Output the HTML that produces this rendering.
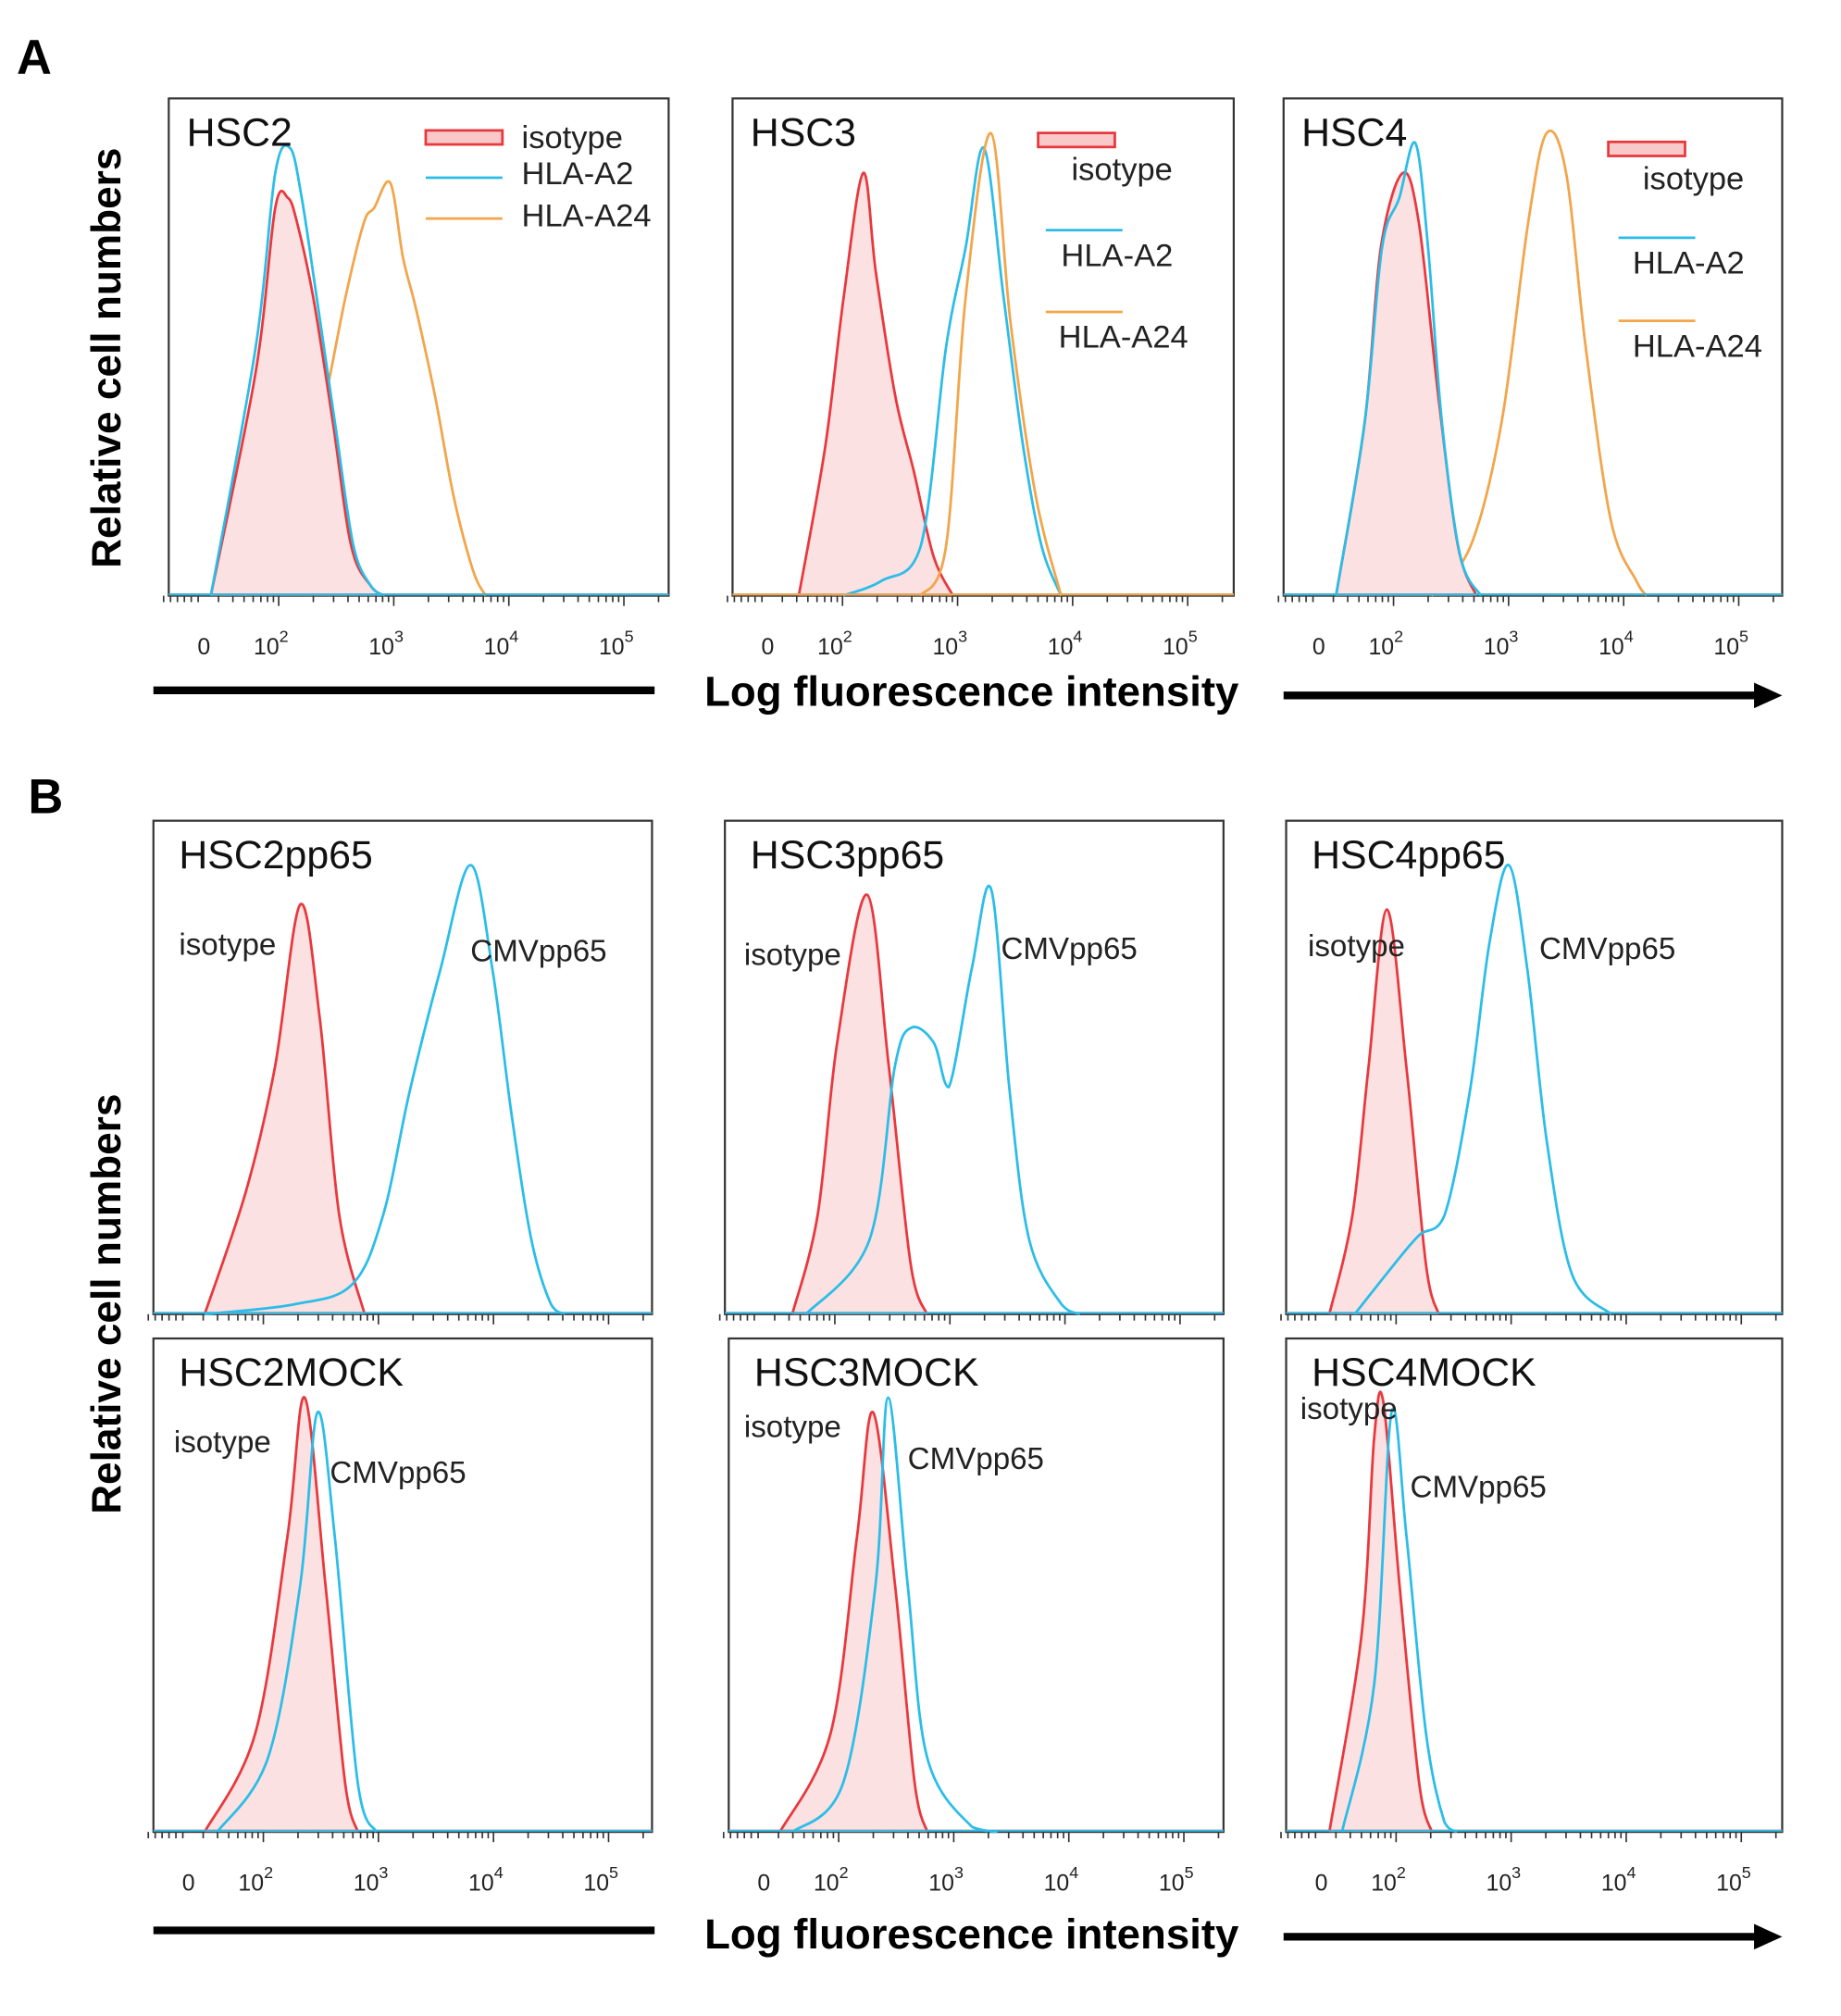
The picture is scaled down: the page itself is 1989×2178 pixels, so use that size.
<!DOCTYPE html>
<html><head><meta charset="utf-8"><style>
html,body{margin:0;padding:0;background:#fff}
svg{display:block}
text{font-family:"Liberation Sans",sans-serif}
</style></head><body>
<svg id="fig" width="1989" height="2178" viewBox="0 0 1440 1577" preserveAspectRatio="none" xmlns="http://www.w3.org/2000/svg">
<defs><marker id="ah" markerWidth="24" markerHeight="24" refX="4" refY="12" orient="auto" markerUnits="userSpaceOnUse"><path d="M0,2 L22,12 L0,22 z" fill="#000"/></marker></defs>
<text x="13" y="58" font-size="38" font-weight="bold">A</text>
<text x="22" y="636" font-size="38" font-weight="bold">B</text>
<text transform="translate(94,280) rotate(-90)" text-anchor="middle" font-size="32" font-weight="bold">Relative cell numbers</text>
<text transform="translate(94,1020) rotate(-90)" text-anchor="middle" font-size="32" font-weight="bold">Relative cell numbers</text>
<g>
<line x1="120" y1="540" x2="512" y2="540" stroke="#000" stroke-width="6"/>
<text x="760" y="552" text-anchor="middle" font-size="33" font-weight="bold">Log fluorescence intensity</text>
<line x1="1004" y1="544" x2="1376" y2="544" stroke="#000" stroke-width="6" marker-end="url(#ah)"/>
</g>
<g>
<line x1="120" y1="1510" x2="512" y2="1510" stroke="#000" stroke-width="6"/>
<text x="760" y="1524" text-anchor="middle" font-size="33" font-weight="bold">Log fluorescence intensity</text>
<line x1="1004" y1="1515" x2="1376" y2="1515" stroke="#000" stroke-width="6" marker-end="url(#ah)"/>
</g>
<g id="panels"></g>
</svg>
<script>
const tickLabels = ["0","2","3","4","5"];
const tickU = [1.35, 2, 3, 4, 5];
const a2Iso = [[1.41,0],[1.8,0.45],[1.97,0.78],[2.08,0.8],[2.16,0.75],[2.3,0.6],[2.47,0.35],[2.63,0.1],[2.8,0.02],[2.92,0]];
const a2A2 = [[1.41,0],[1.8,0.5],[1.97,0.85],[2.1,0.9],[2.2,0.8],[2.33,0.6],[2.5,0.33],[2.65,0.1],[2.8,0.02],[2.92,0]];
const a2A24 = [[1.69,0],[2.02,0.05],[2.36,0.35],[2.58,0.6],[2.74,0.75],[2.83,0.78],[2.97,0.83],[3.08,0.68],[3.19,0.58],[3.36,0.4],[3.52,0.2],[3.69,0.05],[3.8,0]];
const a3Iso = [[1.62,0],[1.85,0.3],[2.01,0.6],[2.18,0.85],[2.29,0.65],[2.46,0.4],[2.62,0.25],[2.79,0.08],[2.96,0]];
const a3A2 = [[2.0,0],[2.34,0.03],[2.68,0.1],[2.9,0.5],[3.07,0.7],[3.23,0.9],[3.4,0.6],[3.57,0.3],[3.73,0.1],[3.9,0]];
const a3A24 = [[2.68,0],[2.9,0.1],[3.07,0.6],[3.29,0.93],[3.46,0.55],[3.68,0.2],[3.9,0]];
const a4Iso = [[1.5,0],[1.75,0.35],[1.89,0.7],[2.08,0.85],[2.22,0.75],[2.39,0.4],[2.56,0.1],[2.72,0]];
const a4A2 = [[1.5,0],[1.75,0.35],[1.9,0.7],[2.05,0.8],[2.19,0.91],[2.3,0.7],[2.42,0.35],[2.58,0.08],[2.76,0]];
const a4A24 = [[2.33,0],[2.67,0.1],[2.94,0.35],[3.17,0.75],[3.33,0.93],[3.5,0.85],[3.67,0.5],[3.89,0.15],[4.11,0.03],[4.2,0]];
const b2Iso = [[1.49,0],[1.85,0.25],[2.1,0.5],[2.32,0.83],[2.49,0.6],[2.66,0.2],[2.88,0]];
const b2Cmv = [[1.49,0],[2.27,0.02],[2.77,0.06],[3.04,0.2],[3.27,0.45],[3.54,0.7],[3.8,0.91],[3.99,0.7],[4.16,0.4],[4.33,0.15],[4.5,0.02],[4.62,0]];
const b3Iso = [[1.63,0],[1.85,0.2],[2.02,0.55],[2.28,0.85],[2.47,0.5],[2.66,0.1],[2.8,0]];
const b3Cmv = [[1.75,0],[2.3,0.15],[2.52,0.5],[2.66,0.58],[2.86,0.55],[2.99,0.46],[3.19,0.7],[3.36,0.86],[3.52,0.45],[3.69,0.15],[3.97,0.02],[4.13,0]];
const b4Iso = [[1.42,0],[1.62,0.2],[1.76,0.5],[1.92,0.82],[2.09,0.5],[2.26,0.1],[2.37,0]];
const b4Cmv = [[1.64,0],[1.98,0.1],[2.2,0.16],[2.42,0.2],[2.64,0.45],[2.81,0.75],[2.98,0.91],[3.14,0.7],[3.31,0.35],[3.53,0.08],[3.87,0]];
const m2Iso = [[1.49,0],[1.93,0.2],[2.21,0.6],[2.36,0.88],[2.54,0.5],[2.71,0.1],[2.82,0]];
const m2Cmv = [[1.6,0],[2.04,0.15],[2.32,0.5],[2.47,0.85],[2.62,0.6],[2.82,0.1],[2.98,0]];
const m3Iso = [[1.49,0],[1.93,0.2],[2.16,0.6],[2.3,0.85],[2.49,0.5],[2.66,0.1],[2.77,0]];
const m3Cmv = [[1.6,0],[2.04,0.1],[2.32,0.5],[2.43,0.88],[2.6,0.5],[2.77,0.15],[3.16,0.01],[3.38,0]];
const m4Iso = [[1.42,0],[1.7,0.4],[1.81,0.8],[1.89,0.87],[2.03,0.5],[2.2,0.1],[2.31,0]];
const m4Cmv = [[1.53,0],[1.81,0.3],[1.96,0.85],[2.09,0.6],[2.26,0.2],[2.42,0.02],[2.53,0]];

const RED="#e8383d", BLUE="#2bbde8", ORANGE="#f2a54a", FILL="#fbe1e1";
const panels = [
 {name:"hsc2",title:"HSC2",x:132,y:77,w:391,h:389,series:[[a2A24,ORANGE],[a2Iso,RED,1],[a2A2,BLUE]],legend:"a1"},
 {name:"hsc3",title:"HSC3",x:573,y:77,w:392,h:389,series:[[a3Iso,RED,1],[a3A2,BLUE],[a3A24,ORANGE]],legend:"a2"},
 {name:"hsc4",title:"HSC4",x:1004,y:77,w:390,h:389,series:[[a4A24,ORANGE],[a4Iso,RED,1],[a4A2,BLUE]],legend:"a3"},
 {name:"hsc2pp65",title:"HSC2pp65",x:120,y:642,w:390,h:386,series:[[b2Iso,RED,1],[b2Cmv,BLUE]],lab:[[140,747],[368,752]]},
 {name:"hsc3pp65",title:"HSC3pp65",x:567,y:642,w:390,h:386,series:[[b3Iso,RED,1],[b3Cmv,BLUE]],lab:[[582,755],[783,750]]},
 {name:"hsc4pp65",title:"HSC4pp65",x:1006,y:642,w:388,h:386,series:[[b4Iso,RED,1],[b4Cmv,BLUE]],lab:[[1023,748],[1204,750]]},
 {name:"hsc2mock",title:"HSC2MOCK",x:120,y:1047,w:390,h:386,series:[[m2Iso,RED,1],[m2Cmv,BLUE]],lab:[[136,1136],[258,1160]]},
 {name:"hsc3mock",title:"HSC3MOCK",x:570,y:1047,w:387,h:386,series:[[m3Iso,RED,1],[m3Cmv,BLUE]],lab:[[582,1124],[710,1149]]},
 {name:"hsc4mock",title:"HSC4MOCK",x:1006,y:1047,w:388,h:386,series:[[m4Iso,RED,1],[m4Cmv,BLUE]],lab:[[1017,1110],[1103,1171]]}
];
const NS="http://www.w3.org/2000/svg";
const root=document.getElementById("panels");
function mk(tag,attrs,parent){const e=document.createElementNS(NS,tag);for(const k in attrs)e.setAttribute(k,attrs[k]);parent.appendChild(e);return e;}
function smooth(pts){let d="M"+pts[0][0]+","+pts[0][1];for(let i=0;i<pts.length-1;i++){const p0=pts[Math.max(0,i-1)],p1=pts[i],p2=pts[i+1],p3=pts[Math.min(pts.length-1,i+2)];const c1x=p1[0]+(p2[0]-p0[0])/6,c1y=p1[1]+(p2[1]-p0[1])/6,c2x=p2[0]-(p3[0]-p1[0])/6,c2y=p2[1]-(p3[1]-p1[1])/6;d+=" C"+c1x+","+Math.min(c1y,Math.max(p1[1],p2[1]))+" "+c2x+","+Math.min(c2y,Math.max(p1[1],p2[1]))+" "+p2[0]+","+p2[1];}return d;}
panels.forEach(p=>{
 const g=mk("g",{},root);
 
 
 const xs=u=>p.x+86+(u-2)*90, ys=v=>p.y+p.h-v*p.h;
 const box=mk("rect",{x:p.x,y:p.y,width:p.w,height:p.h,fill:"#fff",stroke:"#333","stroke-width":1.6},g);
 
 
 p.series.forEach(s=>{
  const pts=s[0].map(q=>[xs(q[0]),ys(q[1])]);
  const d=smooth(pts);
  if(s[2]){const f=mk("path",{d:d+" Z",fill:FILL,stroke:"none"},g);
   
   }
  const base=mk("line",{x1:p.x,y1:p.y+p.h-1,x2:p.x+p.w,y2:p.y+p.h-1,stroke:s[1],"stroke-width":1.5},g);
  
  
  const l=mk("path",{d:d,fill:"none",stroke:s[1],"stroke-width":2},g);
  
  
 });
 const by=p.y+p.h;
 for(let dec=1;dec<6;dec++){for(let m=1;m<10;m++){const u=dec+Math.log10(m);if(u<1.35||xs(u)>p.x+p.w)continue;const t=mk("line",{x1:xs(u),y1:by,x2:xs(u),y2:by+(m==1?8:5),stroke:"#333","stroke-width":1.2},g);}}
 for(let u=1.0;u<1.35;u+=0.06){const t=mk("line",{x1:xs(u),y1:by,x2:xs(u),y2:by+5,stroke:"#333","stroke-width":1.2},g);}
 tickLabels.forEach((lb,i)=>{
  const t=mk("text",{x:xs(tickU[i])-(i?6:0),y:by+46,"font-size":18,"text-anchor":"middle",fill:"#222"},g);
  
  
  if(i==0){t.textContent="0";}else{t.textContent="10";const s=mk("tspan",{dy:-10,"font-size":13},t);s.textContent=lb;}
 });
 const tt=mk("text",{x:p.x+(p.name.length>4?20:14),y:p.y+37,"font-size":31,fill:"#111"},g);
 
 
 tt.textContent=p.title;
 if(p.lab){
  const a=mk("text",{x:p.lab[0][0],y:p.lab[0][1],"font-size":24,fill:"#222"},g);
  
  
  a.textContent="isotype";
  const b=mk("text",{x:p.lab[1][0],y:p.lab[1][1],"font-size":24,fill:"#222"},g);
  
  
  b.textContent="CMVpp65";
 }
 if(p.legend){
  const L=mk("g",{},g);
  
  
  let items;
  if(p.legend=="a1") items=[[333,102,"isotype",408,116,RED],[333,139,"HLA-A2",408,144,BLUE],[333,171,"HLA-A24",408,177,ORANGE]];
  else if(p.legend=="a2") items=[[812,104,"isotype",838,141,RED],[818,180,"HLA-A2",830,208,BLUE],[818,244,"HLA-A24",828,272,ORANGE]];
  else items=[[1258,111,"isotype",1285,148,RED],[1266,186,"HLA-A2",1277,214,BLUE],[1266,251,"HLA-A24",1277,279,ORANGE]];
  items.forEach((it,i)=>{
   if(i==0){const r=mk("rect",{x:it[0],y:it[1],width:60,height:11,fill:"#f9c9c9",stroke:RED,"stroke-width":2},L);
    }
   else{const ln=mk("line",{x1:it[0],y1:it[1],x2:it[0]+60,y2:it[1],stroke:it[5],"stroke-width":2},L);
    }
   const t=mk("text",{x:it[3],y:it[4],"font-size":25,fill:"#222"},L);
   
   t.textContent=it[2];
  });
 }
});
</script>
</body></html>
